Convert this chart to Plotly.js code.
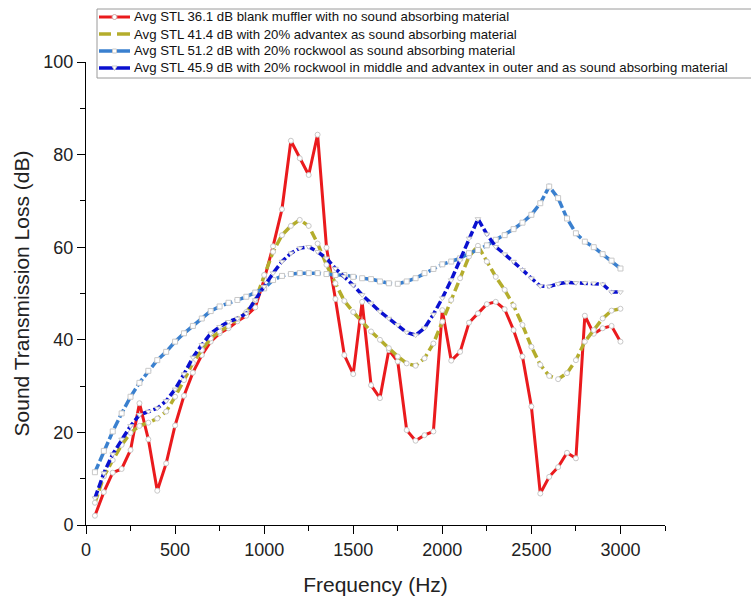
<!DOCTYPE html>
<html>
<head>
<meta charset="utf-8">
<script src="https://cdn.plot.ly/plotly-3.0.1.min.js"></script>
<style>
  html, body { margin: 0; padding: 0; background: #fff; }
  #chart { width: 751px; height: 603px; }
</style>
</head>
<body>
<div id="chart"></div>
<script>
// Frequency grid, 50 Hz to 3000 Hz in 50 Hz steps
const frequency = [
  50, 100, 150, 200, 250, 300, 350, 400, 450, 500,
  550, 600, 650, 700, 750, 800, 850, 900, 950, 1000,
  1050, 1100, 1150, 1200, 1250, 1300, 1350, 1400, 1450, 1500,
  1550, 1600, 1650, 1700, 1750, 1800, 1850, 1900, 1950, 2000,
  2050, 2100, 2150, 2200, 2250, 2300, 2350, 2400, 2450, 2500,
  2550, 2600, 2650, 2700, 2750, 2800, 2850, 2900, 2950, 3000
];

// Blank muffler, no absorbing material
const stlBlank = [
  2.0, 7.1, 11.3, 12.1, 16.2, 26.3, 18.5, 7.4, 13.3, 21.5,
  27.9, 32.9, 36.7, 39.6, 41.4, 42.5, 44.0, 45.2, 47.0, 53.0,
  60.2, 68.2, 83.0, 79.2, 75.6, 84.3, 59.9, 48.8, 36.7, 32.6,
  48.2, 30.2, 27.4, 37.8, 35.3, 20.5, 18.2, 19.4, 20.2, 46.4,
  35.5, 37.4, 43.7, 45.7, 47.7, 48.2, 46.6, 42.1, 36.4, 25.6,
  6.8, 10.4, 12.5, 15.6, 14.4, 45.2, 41.3, 42.5, 43.0, 39.6
];

// 20% advantex
const stlAdvantex = [
  4.8, 10.5, 14.0, 17.3, 19.9, 21.4, 22.1, 23.0, 24.5, 27.7,
  31.3, 35.0, 37.8, 40.3, 41.8, 43.0, 44.5, 46.0, 48.5, 54.0,
  59.0, 62.6, 64.6, 65.9, 64.6, 60.8, 56.2, 52.2, 48.4, 46.0,
  43.9, 41.8, 40.0, 38.2, 36.4, 34.9, 34.4, 36.0, 39.2, 43.9,
  48.6, 53.3, 58.0, 60.3, 56.9, 53.6, 50.8, 47.4, 43.2, 38.5,
  34.6, 32.2, 31.5, 32.8, 35.6, 39.6, 42.1, 44.6, 46.3, 46.7
];

// 20% rockwool
const stlRockwool = [
  11.4, 16.0, 20.2, 24.1, 27.7, 30.7, 33.3, 35.6, 37.4, 39.6,
  41.4, 43.0, 44.6, 46.2, 47.2, 48.0, 48.6, 49.3, 50.2, 51.1,
  52.9, 53.8, 54.2, 54.4, 54.4, 54.4, 54.2, 54.0, 54.0, 53.6,
  53.3, 53.1, 52.6, 52.2, 52.1, 52.6, 53.3, 54.4, 55.3, 56.3,
  56.9, 57.6, 58.7, 59.4, 60.4, 61.6, 62.6, 63.9, 65.3, 67.0,
  69.5, 73.1, 70.6, 66.2, 63.0, 61.2, 60.0, 58.5, 57.1, 55.4
];

// 20% rockwool in middle, advantex in outer
const stlRockwoolAdvantex = [
  5.8, 11.2, 15.3, 18.5, 21.4, 23.8, 24.5, 25.2, 26.8, 29.3,
  32.6, 36.2, 38.9, 41.4, 42.8, 43.9, 44.6, 45.7, 48.6, 51.5,
  54.4, 56.9, 58.7, 59.8, 60.1, 59.0, 57.6, 55.4, 53.7, 51.8,
  49.7, 47.9, 46.1, 44.6, 43.2, 41.6, 41.0, 42.5, 45.5, 49.0,
  52.9, 57.2, 61.9, 66.1, 62.8, 60.1, 58.5, 56.9, 55.1, 53.3,
  51.6, 51.5, 52.1, 52.4, 52.3, 52.3, 52.2, 52.0, 50.3, 50.3
];

const seriesNames = [
  "Avg STL 36.1 dB blank muffler with no sound absorbing material",
  "Avg STL 41.4 dB with 20% advantex as sound absorbing material",
  "Avg STL 51.2 dB with 20% rockwool as sound absorbing material",
  "Avg STL 45.9 dB with 20% rockwool in middle and advantex in outer and as sound absorbing material"
];

const xTickValues = [0, 500, 1000, 1500, 2000, 2500, 3000];
const yTickValues = [0, 20, 40, 60, 80, 100];

// Plot box in pixels (used to place the legend in paper units)
const W = 751, H = 603;
const M = { l: 86, r: 86, t: 62, b: 78 };
const plotW = W - M.l - M.r, plotH = H - M.t - M.b;
const px = v => (v - M.l) / plotW;
const py = v => (H - M.b - v) / plotH;

const styles = [
  { color: "#ea1a1d", dash: "solid",   symbol: "circle",        width: 3,   shape: "circle" },
  { color: "#b4ad2c", dash: "9px,4px", symbol: "circle",        width: 3.5, shape: null },
  { color: "#3a80cf", dash: "9px,3px", symbol: "square",        width: 3.5, shape: "rect" },
  { color: "#0a10d0", dash: "8px,3px", symbol: "triangle-down", width: 3.5, shape: "tri" }
];

const values = [stlBlank, stlAdvantex, stlRockwool, stlRockwoolAdvantex];

const traces = values.map((y, i) => ({
  x: frequency, y: y, name: seriesNames[i], type: "scatter", mode: "lines+markers",
  showlegend: false,
  line: { color: styles[i].color, width: styles[i].width, dash: styles[i].dash },
  marker: { symbol: styles[i].symbol, size: 5, color: "#ffffff",
            line: { color: "#c8c8c8", width: 1 } }
}));

const font = "Arial, 'Liberation Sans', sans-serif";

// Legend box with line samples and labels
const shapes = [{
  type: "rect", xref: "paper", yref: "paper",
  x0: px(97), x1: px(760), y0: py(78), y1: py(9),
  line: { color: "#9a9a9a", width: 1 }, fillcolor: "#ffffff", layer: "above"
}];
const annotations = [];
const rowY = [17, 34, 51, 68];
seriesNames.forEach((name, i) => {
  const st = styles[i];
  const yc = rowY[i];
  if (st.dash === "9px,4px") {
    // two dash segments with a gap in the middle
    shapes.push({ type: "line", xref: "paper", yref: "paper", x0: px(99), x1: px(111), y0: py(yc), y1: py(yc),
                  line: { color: st.color, width: st.width }, layer: "above" });
    shapes.push({ type: "line", xref: "paper", yref: "paper", x0: px(117), x1: px(130), y0: py(yc), y1: py(yc),
                  line: { color: st.color, width: st.width }, layer: "above" });
  } else {
    shapes.push({ type: "line", xref: "paper", yref: "paper", x0: px(99), x1: px(130), y0: py(yc), y1: py(yc),
                  line: { color: st.color, width: st.width }, layer: "above" });
  }
  if (st.shape === "circle") {
    shapes.push({ type: "circle", xref: "paper", yref: "paper", x0: px(112), x1: px(117), y0: py(yc + 2.5), y1: py(yc - 2.5),
                  line: { color: "#d0a0a0", width: 1 }, fillcolor: "#ffffff", layer: "above" });
  } else if (st.shape === "rect") {
    shapes.push({ type: "rect", xref: "paper", yref: "paper", x0: px(112.5), x1: px(116.5), y0: py(yc + 2), y1: py(yc - 2),
                  line: { color: "#c8c8c8", width: 1 }, fillcolor: "#ffffff", layer: "above" });
  } else if (st.shape === "tri") {
    const x0 = px(112), x1 = px(117), xm = px(114.5), yt = py(yc - 2), yb = py(yc + 2.5);
    shapes.push({ type: "path", xref: "paper", yref: "paper",
                  path: `M ${x0} ${yt} L ${x1} ${yt} L ${xm} ${yb} Z`,
                  line: { color: "#c8c8c8", width: 1 }, fillcolor: "#ffffff", layer: "above" });
  }
  annotations.push({
    xref: "paper", yref: "paper", x: px(132), y: py(yc), xanchor: "left", yanchor: "middle",
    text: name, showarrow: false, font: { size: 13.2, family: font, color: "#111" }
  });
});

const layout = {
  width: W, height: H,
  margin: M,
  paper_bgcolor: "#ffffff", plot_bgcolor: "#ffffff",
  font: { family: font, color: "#222" },
  showlegend: false,
  xaxis: {
    range: [0, 3250], tickvals: xTickValues, ticks: "outside", ticklen: 8,
    tickwidth: 1, tickcolor: "#000", showline: true, linecolor: "#000",
    linewidth: 1, showgrid: false, zeroline: false,
    tickfont: { size: 18, family: font, color: "#222" },
    minor: { dtick: 250, tick0: 0, ticks: "outside", ticklen: 5, tickcolor: "#000", showgrid: false },
    title: { text: "Frequency (Hz)", font: { size: 21, family: font, color: "#222" }, standoff: 18 }
  },
  yaxis: {
    range: [0, 100], tickvals: yTickValues, ticks: "outside", ticklen: 8,
    tickwidth: 1, tickcolor: "#000", showline: true, linecolor: "#000",
    linewidth: 1, showgrid: false, zeroline: false,
    tickfont: { size: 18, family: font, color: "#222" },
    minor: { dtick: 10, tick0: 0, ticks: "outside", ticklen: 5, tickcolor: "#000", showgrid: false },
    title: { text: "Sound Transmission Loss (dB)", font: { size: 21, family: font, color: "#222" }, standoff: 8 }
  },
  shapes: shapes,
  annotations: annotations
};

Plotly.newPlot("chart", traces, layout, { displayModeBar: false, staticPlot: true });
</script>
</body>
</html>
